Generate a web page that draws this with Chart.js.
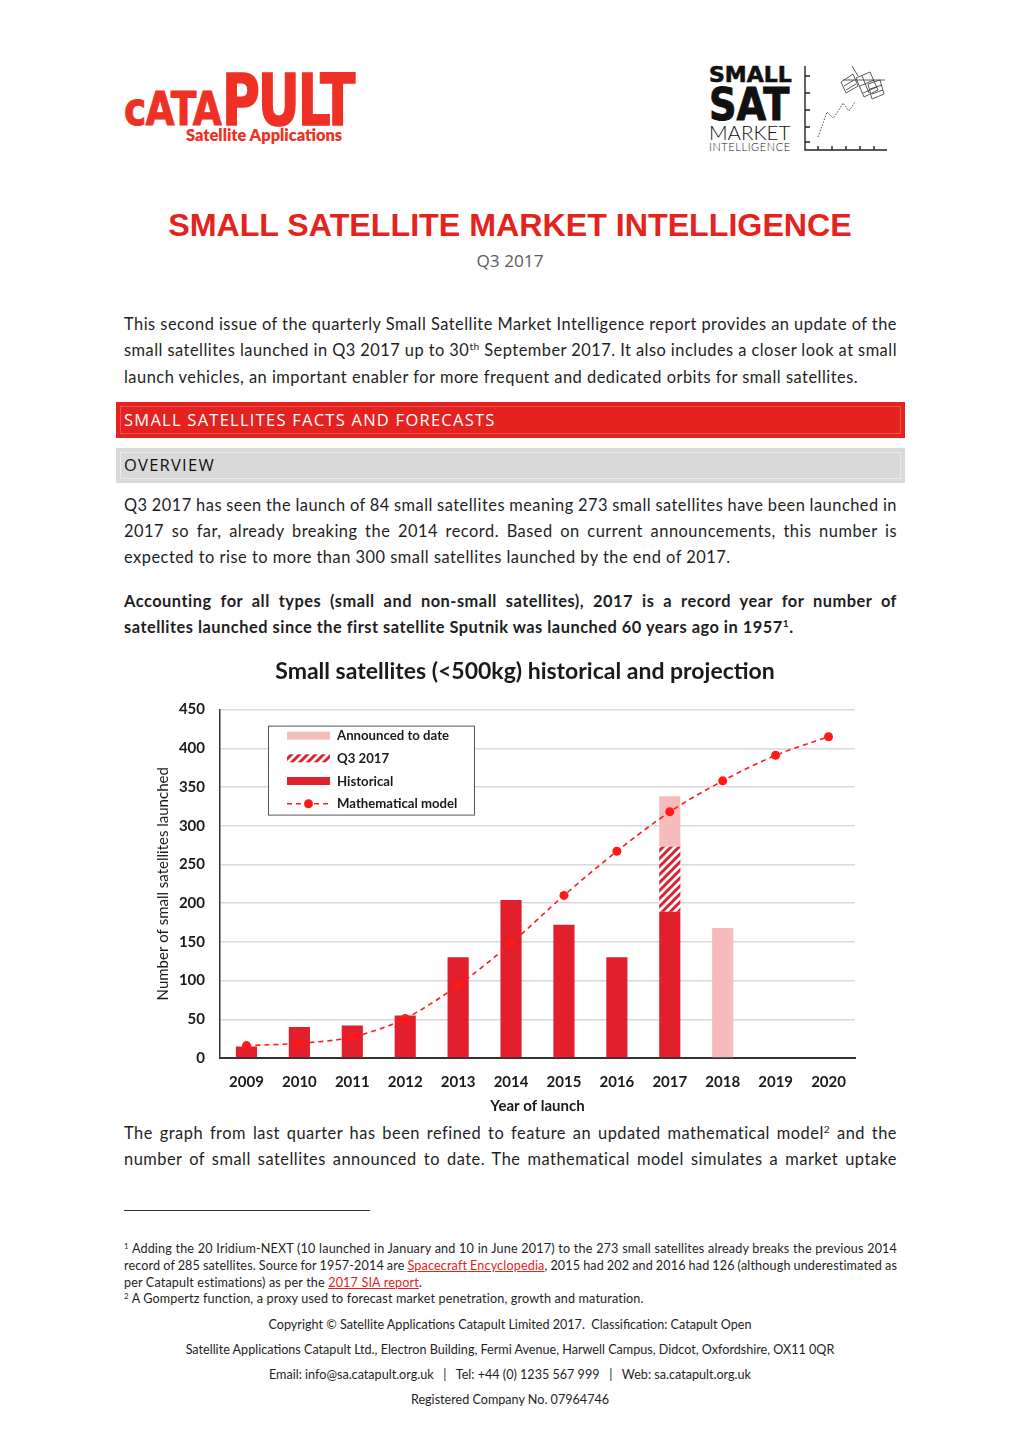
<!DOCTYPE html>
<html>
<head>
<meta charset="utf-8">
<script src="https://cdn.jsdelivr.net/npm/chart.js@4.4.0/dist/chart.umd.min.js"></script>
<style>
  html, body { margin: 0; padding: 0; background: #fff; }
  body { width: 1020px; height: 1442px; position: relative; overflow: hidden; font-family: Lato, "Noto Sans", sans-serif; color: #1e1e1e; }
  .abs { position: absolute; white-space: nowrap; }
  .ln { position: absolute; left: 124px; width: 773px; height: 20px; line-height: 20px; font-size: 16.4px; letter-spacing: 0.5px; white-space: nowrap; }
  .b { font-weight: bold; }
  .fn { font-size: 12.6px; letter-spacing: 0.15px; height: 16px; line-height: 16px; }
  .foot { position: absolute; left: 0; width: 1020px; text-align: center; font-size: 12.6px; height: 16px; line-height: 16px; white-space: pre; }
  sup { font-size: 0.62em; vertical-align: 0; position: relative; top: -0.55em; }
  a { color: #e4231c; text-decoration: underline; }
  .bar { position: absolute; left: 116px; width: 789px; }
  .bar .in { position: absolute; left: 4px; right: 4px; top: 4px; bottom: 4px; }
  .bar .t { position: absolute; left: 8px; top: 0; font-family: "Open Sans", sans-serif; font-size: 16.5px; letter-spacing: 1.25px; }
</style>
</head>
<body>

<!-- Catapult logo -->
<div class="abs" style="left:124px;top:85px;font:bold 47px 'DejaVu Sans';line-height:1;color:#ee3124;letter-spacing:-1px;transform:scaleX(0.8);transform-origin:left top;-webkit-text-stroke:1px #ee3124;">cATA</div>
<div class="abs" style="left:222px;top:64px;font:bold 72px 'DejaVu Sans';line-height:1;color:#ee3124;letter-spacing:-3px;transform:scaleX(0.72);transform-origin:left top;-webkit-text-stroke:1.5px #ee3124;">PULT</div>
<div class="abs" style="left:186px;top:127px;font:800 16.4px Lato;line-height:1;color:#ee3124;">Satellite Applications</div>

<!-- Small Sat logo -->
<div class="abs" style="left:709px;top:64px;font:bold 22px 'DejaVu Sans';line-height:1;color:#111;-webkit-text-stroke:0.6px #111;">SMALL</div>
<div class="abs" style="left:709px;top:83px;font:bold 44px 'DejaVu Sans';line-height:1;color:#111;transform:scaleX(0.87);transform-origin:left top;-webkit-text-stroke:1px #111;">SAT</div>
<div class="abs" style="left:709px;top:122px;font:300 20.5px Lato;line-height:1;color:#111;">MARKET</div>
<div class="abs" style="left:709px;top:141px;font:300 11px Lato;line-height:1;color:#111;letter-spacing:0.6px;">INTELLIGENCE</div>
<svg class="abs" style="left:0;top:0" width="1020" height="170">
  <g stroke="#222" fill="none" stroke-width="1.4">
    <polyline points="805,66 805,150 887,150"/>
    <path d="M805,76h5M805,93h5M805,110h5M805,127h5M805,142h5M818,150v-4M832,150v-4M846,150v-4M860,150v-4M874,150v-4"/>
  </g>
  <polyline points="818,137 827,112 833,118 837,113 843,103 849,111 855,102" stroke="#333" stroke-width="0.9" stroke-dasharray="1.5,1.5" fill="none"/>
  <g stroke="#333" stroke-width="0.8" fill="none">
    <path d="M843,80h42"/>
    <path d="M852,66l6,10"/>
    <polygon points="841,82 853,74 858,86 846,93"/>
    <path d="M844,86l10,-6M846,90l10,-6"/>
    <polygon points="856,78 870,72 878,90 864,97"/>
    <path d="M860,86l14,-6M863,93l14,-6M862,76l7,17"/>
    <polygon points="868,84 880,80 884,94 872,99"/>
    <path d="M870,89l12,-4M872,94l11,-4"/>
  </g>
</svg>

<!-- Title -->
<div class="abs" style="left:0;width:1020px;text-align:center;top:209px;font:bold 32.2px 'Liberation Sans';line-height:1;color:#e4231c;">SMALL SATELLITE MARKET INTELLIGENCE</div>
<div class="abs" style="left:0;width:1020px;text-align:center;top:249px;height:20px;line-height:20px;font:17.2px 'Open Sans';color:#5a5a5a;">Q3 2017</div>

<!-- Intro -->
<div class="ln j" style="top:314px"><span>This second issue of the quarterly Small Satellite Market Intelligence report provides an update of the</span></div>
<div class="ln j" style="top:340px"><span>small satellites launched in Q3 2017 up to 30<sup>th</sup> September 2017. It also includes a closer look at small</span></div>
<div class="ln" style="top:367px"><span>launch vehicles, an important enabler for more frequent and dedicated orbits for small satellites.</span></div>

<!-- Section bars -->
<div class="bar" style="top:402px;height:36px;background:#e42320;">
  <div class="in" style="border:1px solid rgba(255,255,255,0.22);"></div>
  <div class="t" style="height:36px;line-height:35px;color:#fff;">SMALL SATELLITES FACTS AND FORECASTS</div>
</div>
<div class="bar" style="top:448px;height:35px;background:#d9d9d9;">
  <div class="in" style="border:1px solid rgba(255,255,255,0.45);"></div>
  <div class="t" style="height:35px;line-height:33px;color:#111;">OVERVIEW</div>
</div>

<!-- Overview -->
<div class="ln j" style="top:495px"><span>Q3 2017 has seen the launch of 84 small satellites meaning 273 small satellites have been launched in</span></div>
<div class="ln j" style="top:521px"><span>2017 so far, already breaking the 2014 record. Based on current announcements, this number is</span></div>
<div class="ln" style="top:547px"><span>expected to rise to more than 300 small satellites launched by the end of 2017.</span></div>
<div class="ln j b" style="top:591px"><span>Accounting for all types (small and non-small satellites), 2017 is a record year for number of</span></div>
<div class="ln b" style="top:617px"><span>satellites launched since the first satellite Sputnik was launched 60 years ago in 1957<sup>1</sup>.</span></div>

<!-- Chart -->
<canvas id="satChart" width="750" height="472" style="position:absolute;left:150px;top:648px;width:750px;height:472px;"></canvas>

<div class="ln j" style="top:1123px"><span>The graph from last quarter has been refined to feature an updated mathematical model<sup>2</sup> and the</span></div>
<div class="ln j" style="top:1149px"><span>number of small satellites announced to date. The mathematical model simulates a market uptake</span></div>

<!-- Footnotes -->
<div class="abs" style="left:124px;top:1210px;width:246px;height:1px;background:#333;"></div>
<div class="ln fn j" style="top:1241px"><span><sup>1</sup> Adding the 20 Iridium-NEXT (10 launched in January and 10 in June 2017) to the 273 small satellites already breaks the previous 2014</span></div>
<div class="ln fn j" style="top:1258px"><span>record of 285 satellites. Source for 1957-2014 are <a>Spacecraft Encyclopedia</a>, 2015 had 202 and 2016 had 126 (although underestimated as</span></div>
<div class="ln fn" style="top:1275px"><span>per Catapult estimations) as per the <a>2017 SIA report</a>.</span></div>
<div class="ln fn" style="top:1291px"><span><sup>2</sup> A Gompertz function, a proxy used to forecast market penetration, growth and maturation.</span></div>

<!-- Footer -->
<div class="foot" style="top:1317px">Copyright © Satellite Applications Catapult Limited 2017.  Classification: Catapult Open</div>
<div class="foot" style="top:1342px">Satellite Applications Catapult Ltd., Electron Building, Fermi Avenue, Harwell Campus, Didcot, Oxfordshire, OX11 0QR</div>
<div class="foot" style="top:1367px">Email: info@sa.catapult.org.uk   |   Tel: +44 (0) 1235 567 999   |   Web: sa.catapult.org.uk</div>
<div class="foot" style="top:1392px">Registered Company No. 07964746</div>

<script>
// justify the full lines to the text block width
document.querySelectorAll('.j').forEach(function (el) {
  var span = el.firstElementChild;
  var w = span.getBoundingClientRect().width;
  var n = (span.textContent.match(/ /g) || []).length;
  if (n) span.style.wordSpacing = ((773 - w) / n) + 'px';
});

var years = ['2009', '2010', '2011', '2012', '2013', '2014', '2015', '2016', '2017', '2018', '2019', '2020'];
var historical = [15, 40, 42, 55, 130, 204, 172, 130, 189, null, null, null];
var q3_2017 = [null, null, null, null, null, null, null, null, 84, null, null, null];
var announced = [null, null, null, null, null, null, null, null, 65, 168, null, null];
var model = [16, 19, 27, 51, 94, 148, 210, 267, 318, 358, 391, 415];

var RED = '#e2202d';
var PINK = '#f6bcbc';
var LINE_RED = '#ff1a1a';

function makeHatch(color) {
  var c = document.createElement('canvas');
  c.width = 8; c.height = 8;
  var g = c.getContext('2d');
  g.fillStyle = '#fff';
  g.fillRect(0, 0, 8, 8);
  g.strokeStyle = color;
  g.lineWidth = 3;
  g.beginPath();
  g.moveTo(-2, 10); g.lineTo(10, -2);
  g.moveTo(-2, 2); g.lineTo(2, -2);
  g.moveTo(6, 10); g.lineTo(10, 6);
  g.stroke();
  return g.createPattern(c, 'repeat');
}

// boxed legend inside the plot, like the original
var legendOrder = [2, 1, 0, 3];
var legendBox = {
  id: 'legendBox',
  beforeDatasetsDraw: function (chart) {
    var ctx = chart.ctx, area = chart.chartArea;
    var x = area.left + 48, y = area.top + 16, w = 206, h = 89;
    ctx.save();
    ctx.fillStyle = '#fff';
    ctx.fillRect(x, y, w, h);
    ctx.strokeStyle = '#555';
    ctx.lineWidth = 1;
    ctx.strokeRect(x + 0.5, y + 0.5, w, h);
    legendOrder.forEach(function (idx, i) {
      var ds = chart.data.datasets[idx];
      var cy = y + 10 + i * 22.7;
      var sx = x + 19, sw = 43;
      if (ds.type === 'line') {
        ctx.strokeStyle = ds.borderColor;
        ctx.lineWidth = ds.borderWidth;
        ctx.setLineDash(ds.borderDash);
        ctx.beginPath(); ctx.moveTo(sx, cy); ctx.lineTo(sx + sw, cy); ctx.stroke();
        ctx.setLineDash([]);
        ctx.fillStyle = ds.pointBackgroundColor;
        ctx.beginPath(); ctx.arc(sx + sw / 2, cy, 4.5, 0, Math.PI * 2); ctx.fill();
      } else {
        ctx.fillStyle = ds.backgroundColor;
        ctx.fillRect(sx, cy - 4, sw, 8);
      }
      ctx.fillStyle = '#1a1a1a';
      ctx.font = 'bold 13.2px Lato';
      ctx.textBaseline = 'middle';
      ctx.fillText(ds.label, x + 69, cy + 0.5);
    });
    ctx.restore();
  }
};

var tickFont = { family: 'Lato', size: 15, weight: 'bold' };

new Chart(document.getElementById('satChart'), {
  data: {
    labels: years,
    datasets: [
      { type: 'bar', label: 'Historical', data: historical, backgroundColor: RED, stack: 'sats', order: 1 },
      { type: 'bar', label: 'Q3 2017', data: q3_2017, backgroundColor: makeHatch(RED), stack: 'sats', order: 1 },
      { type: 'bar', label: 'Announced to date', data: announced, backgroundColor: PINK, stack: 'sats', order: 1 },
      {
        type: 'line', label: 'Mathematical model', data: model, stack: 'model', order: 0,
        borderColor: LINE_RED, borderWidth: 1.6, borderDash: [5, 4], tension: 0.3,
        pointRadius: 4.5, pointBackgroundColor: LINE_RED, pointBorderWidth: 0
      }
    ]
  },
  options: {
    responsive: false,
    animation: false,
    layout: { padding: 0 },
    datasets: { bar: { barPercentage: 0.4, categoryPercentage: 1 } },
    plugins: {
      legend: { display: false },
      tooltip: { enabled: false },
      title: {
        display: true,
        text: 'Small satellites (<500kg) historical and projection',
        color: '#1a1a1a',
        font: { family: 'Lato', size: 23, weight: 'bold' },
        padding: { top: 10, bottom: 24 }
      }
    },
    scales: {
      x: {
        stacked: true,
        grid: { display: false, drawTicks: false },
        border: { color: '#333', width: 2 },
        ticks: { color: '#1a1a1a', font: tickFont, padding: 15 },
        title: { display: true, text: 'Year of launch', color: '#1a1a1a', font: { family: 'Lato', size: 15, weight: 'bold' }, padding: { top: 0, bottom: 5 } },
        afterFit: function (s) { s.height = 62; }
      },
      y: {
        stacked: true,
        min: 0, max: 450,
        ticks: { stepSize: 50, color: '#1a1a1a', font: tickFont, padding: 15 },
        grid: { color: '#d9d9d9', lineWidth: 1.5, drawTicks: false },
        border: { color: '#333', width: 1.5 },
        title: { display: true, text: 'Number of small satellites launched', color: '#1a1a1a', font: { family: 'Lato', size: 15 }, padding: { top: 4, bottom: 0 } },
        afterFit: function (s) { s.width = 70; }
      },
      yr: {
        position: 'right',
        ticks: { display: false },
        grid: { display: false },
        border: { display: false },
        afterFit: function (s) { s.width = 45; }
      }
    }
  },
  plugins: [legendBox]
});
</script>
</body>
</html>
